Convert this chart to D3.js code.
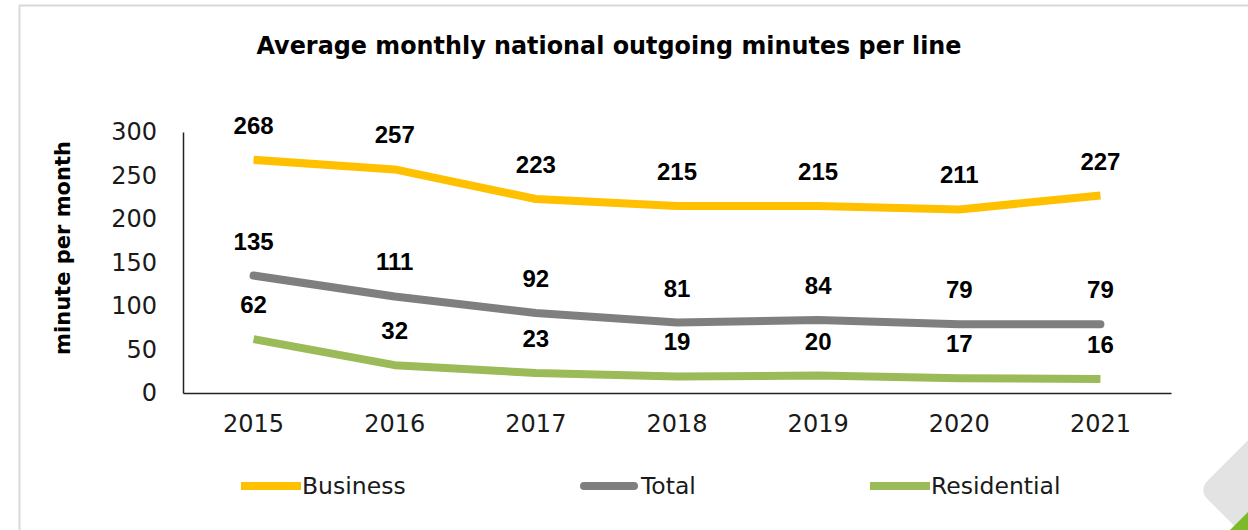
<!DOCTYPE html>
<html>
<head>
<meta charset="utf-8">
<title>Average monthly national outgoing minutes per line</title>
<style>
    body { margin: 0; background: #fff; }
    svg { display: block; }
    .tick-label { font-family: "DejaVu Sans", sans-serif; font-size: 24px; fill: #1a1a1a; }
    .legend-label { font-family: "DejaVu Sans", sans-serif; font-size: 23.5px; fill: #1a1a1a; }
    .data-label { font-family: "Liberation Sans", sans-serif; font-weight: bold; font-size: 24px; fill: #000; }
</style>
</head>
<body>
<script src="https://cdn.jsdelivr.net/npm/d3@7"></script>
<script>
    // data
    var years = ["2015", "2016", "2017", "2018", "2019", "2020", "2021"];
    var business = [268, 257, 223, 215, 215, 211, 227];
    var total = [135, 111, 92, 81, 84, 79, 79];
    var residential = [62, 32, 23, 19, 20, 17, 16];
    var yTicks = [0, 50, 100, 150, 200, 250, 300];

    var series = [
        { name: "Business", values: business, color: "#FFC000", cap: "butt" },
        { name: "Total", values: total, color: "#7F7F7F", cap: "round" },
        { name: "Residential", values: residential, color: "#9BBB59", cap: "butt" }
    ];

    var width = 1248, height = 530;
    var svg = d3.select("body").append("svg")
        .attr("width", width)
        .attr("height", height);

    // frame
    svg.append("path")
        .attr("d", "M19.5," + height + "V5.5H" + width)
        .attr("fill", "none")
        .attr("stroke", "#d9d9d9")
        .attr("stroke-width", 2);

    // corner decoration
    svg.append("rect")
        .attr("x", -45).attr("y", -45).attr("width", 90).attr("height", 90)
        .attr("rx", 12)
        .attr("fill", "#e3e3e3")
        .attr("transform", "translate(1262,490) rotate(45)");
    svg.append("path")
        .attr("d", "M1230,530L1248,512V530Z")
        .attr("fill", "#7dba2a");

    var x = d3.scaleBand().domain(years).range([183, 1171]);
    var y = d3.scaleLinear().domain([0, 300]).range([393, 132]);

    // title
    svg.append("text")
        .attr("x", 609).attr("y", 54)
        .attr("text-anchor", "middle")
        .style("font-family", "'DejaVu Sans', sans-serif")
        .style("font-weight", "bold")
        .style("font-size", "25px")
        .attr("textLength", 705)
        .attr("lengthAdjust", "spacingAndGlyphs")
        .text("Average monthly national outgoing minutes per line");

    // y axis title
    svg.append("text")
        .attr("transform", "translate(70,248) rotate(-90)")
        .attr("text-anchor", "middle")
        .style("font-family", "'DejaVu Sans', sans-serif")
        .style("font-weight", "bold")
        .style("font-size", "21px")
        .text("minute per month");

    // axes
    var yAxis = svg.append("g")
        .attr("transform", "translate(183,0)")
        .call(d3.axisLeft(y).tickValues(yTicks).tickSize(0).tickPadding(26));
    yAxis.select(".domain").attr("stroke", "#222").attr("stroke-width", 1.5);
    yAxis.selectAll("text").attr("class", "tick-label").attr("fill", null).attr("font-size", null).attr("font-family", null);

    var xAxis = svg.append("g")
        .attr("transform", "translate(0,393)")
        .call(d3.axisBottom(x).tickSize(0).tickPadding(22));
    xAxis.select(".domain").attr("stroke", "#222").attr("stroke-width", 1.5);
    xAxis.selectAll("text").attr("class", "tick-label").attr("fill", null).attr("font-size", null).attr("font-family", null);

    var line = d3.line()
        .x(function (d, i) { return x(years[i]) + x.bandwidth() / 2; })
        .y(function (d) { return y(d); });

    series.forEach(function (s) {
        svg.append("path")
            .datum(s.values)
            .attr("d", line)
            .attr("fill", "none")
            .attr("stroke", s.color)
            .attr("stroke-width", 8)
            .attr("stroke-linecap", s.cap)
            .attr("stroke-linejoin", "round");

        svg.selectAll(null)
            .data(s.values)
            .enter().append("text")
            .attr("class", "data-label")
            .attr("x", function (d, i) { return x(years[i]) + x.bandwidth() / 2; })
            .attr("y", function (d) { return y(d) - 26; })
            .attr("text-anchor", "middle")
            .text(function (d) { return d; });
    });

    // legend
    var legendX = [241, 580, 870];
    var legend = svg.selectAll(".legend")
        .data(series)
        .enter().append("g")
        .attr("class", "legend")
        .attr("transform", function (d, i) { return "translate(" + legendX[i] + ",486)"; });
    legend.append("line")
        .attr("x1", function (d) { return d.cap === "round" ? 4 : 0; })
        .attr("x2", function (d) { return d.cap === "round" ? 54 : 60; })
        .attr("stroke", function (d) { return d.color; })
        .attr("stroke-width", 8)
        .attr("stroke-linecap", function (d) { return d.cap; });
    legend.append("text")
        .attr("class", "legend-label")
        .attr("x", 61)
        .attr("dy", "0.35em")
        .text(function (d) { return d.name; });
</script>
</body>
</html>
